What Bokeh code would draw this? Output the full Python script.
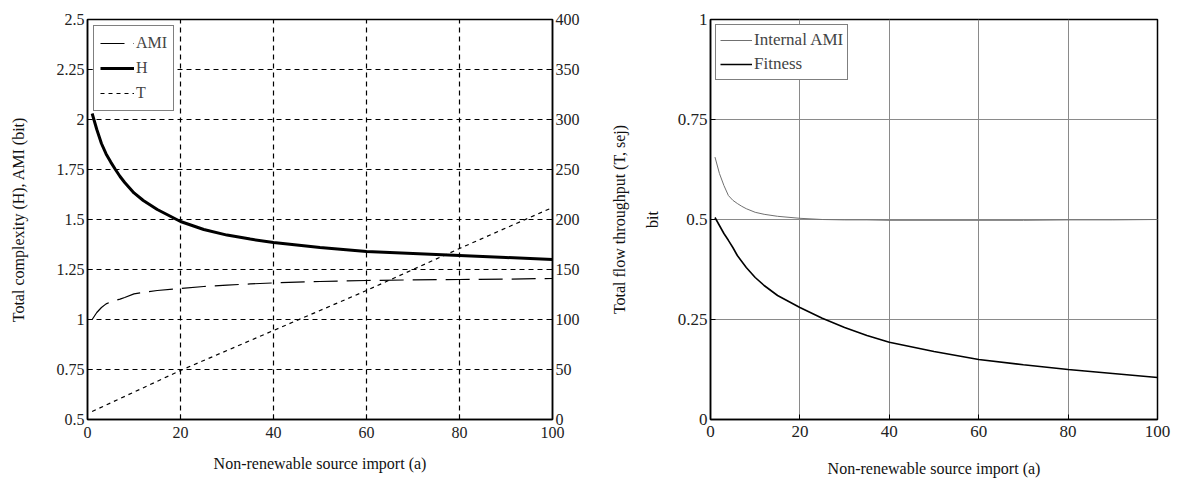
import math
from bokeh.plotting import figure
from bokeh.layouts import row
from bokeh.models import Range1d, LinearAxis, FixedTicker, Legend, LegendItem
from bokeh.core.properties import value
from bokeh.embed import file_html
from bokeh.resources import INLINE

# ---------------- data ----------------
a_vals = [1, 2, 3, 4, 5, 6, 7, 8, 10, 12, 15, 20, 25, 30, 35, 40, 50, 60, 70, 80, 90, 100]
H_vals = [2.03, 1.95, 1.88, 1.828, 1.787, 1.75, 1.715, 1.685, 1.633, 1.595, 1.55, 1.49, 1.45,
          1.422, 1.402, 1.385, 1.36, 1.34, 1.33, 1.32, 1.31, 1.30]
AMI_vals = [1.0, 1.035, 1.06, 1.078, 1.088, 1.095, 1.102, 1.11, 1.128, 1.136, 1.145, 1.155,
            1.165, 1.172, 1.178, 1.183, 1.19, 1.195, 1.198, 1.20, 1.202, 1.205]
a_T = [1, 20, 40, 60, 80, 100]
T_vals = [8, 49, 89, 129, 171, 212]

int_AMI_vals = [0.656, 0.615, 0.585, 0.56, 0.548, 0.54, 0.533, 0.527, 0.518, 0.513, 0.508,
                0.503, 0.50, 0.499, 0.499, 0.498, 0.498, 0.498, 0.498, 0.499, 0.499, 0.50]
fitness_vals = [0.505, 0.485, 0.465, 0.448, 0.43, 0.41, 0.395, 0.38, 0.355, 0.335, 0.31,
                0.28, 0.253, 0.23, 0.21, 0.193, 0.17, 0.15, 0.137, 0.125, 0.115, 0.105]

x_ticks = [0, 20, 40, 60, 80, 100]
left_y_ticks = [0.5, 0.75, 1, 1.25, 1.5, 1.75, 2, 2.25, 2.5]
left_y_labels = ["0.5", "0.75", "1", "1.25", "1.5", "1.75", "2", "2.25", "2.5"]
right_y_ticks = [0, 50, 100, 150, 200, 250, 300, 350, 400]
bit_ticks = [0, 0.25, 0.5, 0.75, 1]
bit_labels = ["0", "0.25", "0.5", "0.75", "1"]
right_axis_title = ["Total flow throughput (T, sej)"]

FONT = "Liberation Serif"


def style_axis(ax, size="16px"):
    ax.major_label_text_font = FONT
    ax.major_label_text_font_size = size
    ax.major_label_text_color = "#222222"
    ax.axis_label_text_font = FONT
    ax.axis_label_text_font_size = "16px"
    ax.axis_label_text_font_style = "normal"
    ax.axis_label_text_color = "#111111"
    ax.major_tick_in = 5
    ax.major_tick_out = 0
    ax.minor_tick_line_color = None
    ax.axis_line_color = "black"
    ax.axis_line_width = 1.5
    ax.major_tick_line_color = "black"
    ax.major_label_standoff = 3


H_FIG = 481
TOP = 19
BOTTOM = 62

# ---------------- left figure ----------------
p1 = figure(width=597, height=H_FIG, output_backend="svg", toolbar_location=None,
            x_range=Range1d(0, 100), y_range=Range1d(0.5, 2.5),
            min_border_left=87, min_border_right=45, min_border_top=TOP, min_border_bottom=BOTTOM)
p1.extra_y_ranges = {"T": Range1d(0, 400)}
p1.outline_line_color = "black"
p1.outline_line_width = 1.5
p1.background_fill_color = "white"

p1.xaxis.ticker = FixedTicker(ticks=x_ticks)
p1.yaxis.ticker = FixedTicker(ticks=left_y_ticks)
p1.yaxis.major_label_overrides = {t: l for t, l in zip(left_y_ticks, left_y_labels)}
p1.xaxis.axis_label = "Non-renewable source import (a)"
p1.yaxis.axis_label = "Total complexity (H), AMI (bit)"
style_axis(p1.xaxis[0])
style_axis(p1.yaxis[0])
p1.xaxis.major_label_standoff = 7
p1.xaxis.axis_label_standoff = 14
p1.yaxis.axis_label_standoff = 27

rax = LinearAxis(y_range_name="T", ticker=FixedTicker(ticks=right_y_ticks))
style_axis(rax)
p1.add_layout(rax, "right")

for g in (p1.xgrid[0], p1.ygrid[0]):
    g.grid_line_color = "black"
    g.grid_line_dash = "5 4"
    g.grid_line_width = 1.2
p1.xgrid.ticker = FixedTicker(ticks=x_ticks)
p1.ygrid.ticker = FixedTicker(ticks=left_y_ticks)

r_ami = p1.line(a_vals, AMI_vals, line_color="black", line_width=1.2, line_dash="24 9")
r_h = p1.line(a_vals, H_vals, line_color="black", line_width=3)
r_t = p1.line(a_T, T_vals, line_color="black", line_width=1.2, line_dash="4 4", y_range_name="T")

leg1 = Legend(items=[LegendItem(label="AMI", renderers=[r_ami]),
                     LegendItem(label="H", renderers=[r_h]),
                     LegendItem(label="T", renderers=[r_t])],
              location="top_left", margin=6, padding=6, spacing=3,
              glyph_width=34, glyph_height=22, label_height=22,
              label_text_font=FONT, label_text_font_size="16px",
              border_line_color="black", border_line_width=1.5,
              background_fill_alpha=1.0, label_standoff=2)
p1.add_layout(leg1, "center")

# ---------------- right-axis title strip (reads bottom-to-top) ----------------
pm = figure(width=43, height=H_FIG, output_backend="svg", toolbar_location=None,
            x_range=Range1d(0, 1), y_range=Range1d(0, 1),
            min_border_left=0, min_border_right=0, min_border_top=TOP, min_border_bottom=BOTTOM)
pm.axis.visible = False
pm.grid.visible = False
pm.outline_line_color = None
pm.text(x=[0.5], y=[0.5], text=right_axis_title, angle=math.pi / 2,
        text_align="center", text_baseline="middle",
        text_font=value(FONT), text_font_size="16px", text_color="#111111")

# ---------------- right figure ----------------
p2 = figure(width=532, height=H_FIG, output_backend="svg", toolbar_location=None,
            x_range=Range1d(0, 100), y_range=Range1d(0, 1),
            min_border_left=67, min_border_right=15, min_border_top=TOP, min_border_bottom=BOTTOM)
p2.outline_line_color = "black"
p2.outline_line_width = 1.5
p2.xaxis.ticker = FixedTicker(ticks=x_ticks)
p2.yaxis.ticker = FixedTicker(ticks=bit_ticks)
p2.yaxis.major_label_overrides = {t: l for t, l in zip(bit_ticks, bit_labels)}
p2.xaxis.axis_label = "Non-renewable source import (a)"
p2.yaxis.axis_label = "bit"
style_axis(p2.xaxis[0], "17px")
style_axis(p2.yaxis[0], "17px")
p2.xaxis.major_label_standoff = 6
p2.xaxis.axis_label_standoff = 20
p2.yaxis.axis_label_standoff = 14
for g in (p2.xgrid[0], p2.ygrid[0]):
    g.grid_line_color = "#8a8a8a"
    g.grid_line_width = 1
p2.xgrid.ticker = FixedTicker(ticks=x_ticks)
p2.ygrid.ticker = FixedTicker(ticks=bit_ticks)

r_int = p2.line(a_vals, int_AMI_vals, line_color="#707070", line_width=1)
r_fit = p2.line(a_vals, fitness_vals, line_color="black", line_width=1.6)

leg2 = Legend(items=[LegendItem(label="Internal AMI", renderers=[r_int]),
                     LegendItem(label="Fitness", renderers=[r_fit])],
              location="top_left", margin=5, padding=4, spacing=2,
              glyph_width=32, glyph_height=22, label_height=22,
              label_text_font=FONT, label_text_font_size="17px",
              border_line_color="black", border_line_width=1.5,
              background_fill_alpha=1.0, label_standoff=2)
p2.add_layout(leg2, "center")

layout = row(p1, pm, p2)
open("out.html", "w").write(file_html(layout, INLINE))
